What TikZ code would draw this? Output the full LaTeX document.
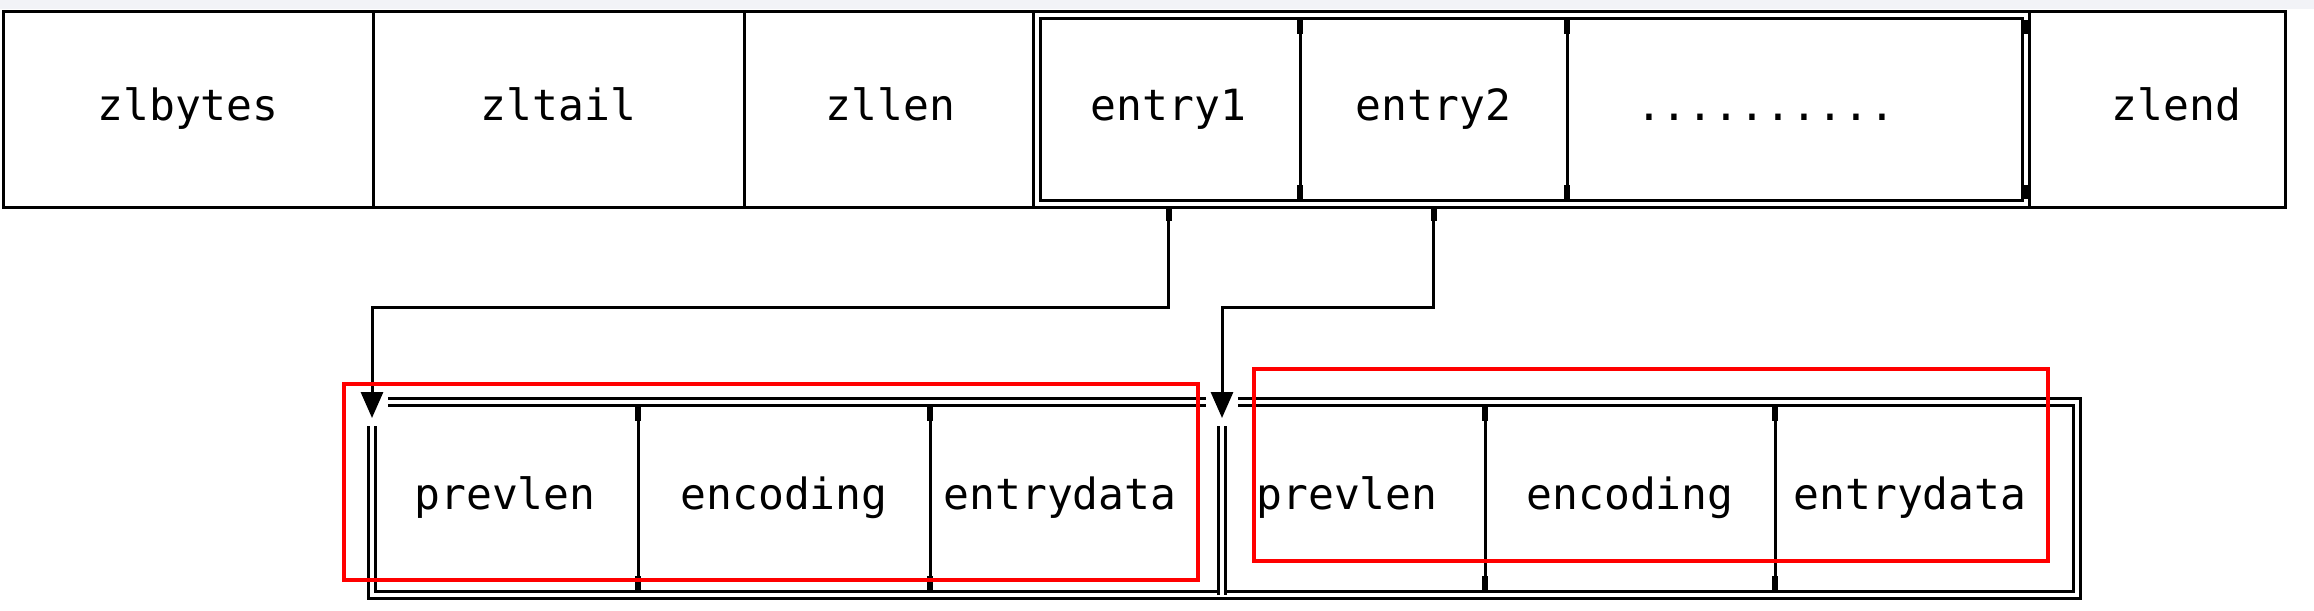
\documentclass[tikz,border=0pt]{standalone}
\usepackage{fontspec}
\setmonofont{DejaVu Sans Mono}
\usetikzlibrary{arrows.meta}
\definecolor{stripgray}{HTML}{F2F3F7}
\begin{document}
\begin{tikzpicture}[x=1pt,y=-1pt,
  cell/.style={draw=black, line width=3pt, rectangle, inner sep=0pt, outer sep=0pt, anchor=north west, minimum height=195pt, text height=32pt, text depth=10pt, font=\ttfamily\fontsize{43}{50}\selectfont},
  bcell/.style={cell, minimum height=193pt},
  dframe/.style={draw=black, line width=3pt, double=white, double distance=4pt},
  conn/.style={draw=black, line width=3pt},
  notch/.style={draw=black, line width=6pt},
  tip/.style={-{Triangle[width=22pt,length=26pt]}},
  redbox/.style={draw=red, line width=4.5pt},
]
\useasboundingbox (0,0) rectangle (2314,610);
\fill[white] (0,0) rectangle (2314,610);
\fill[stripgray] (0,0) rectangle (2314,9);

% top row
\node[cell, minimum width=370pt] (zlbytes) at (3,12) {zlbytes};
\node[cell, minimum width=371pt] (zltail) at (373,12) {zltail};
\node[cell, minimum width=293pt] (zllen) at (744,12) {zllen};
\node[cell, minimum width=263pt] (e1) at (1037,12) {entry1};
\node[cell, minimum width=267pt] (e2) at (1300,12) {entry2};
\node[cell, minimum width=459pt] (dots) at (1567,12) {..........\hspace*{62pt}};
\node[cell, minimum width=259pt] (zlend) at (2026,12) {\hspace*{42pt}zlend};
\draw[dframe] (1037,15) rectangle (2026,204);
% junction notches (top row)
\foreach \x in {1300,1567,2026} {
  \draw[notch] (\x,20) -- (\x,34);
  \draw[notch] (\x,185) -- (\x,199);
}
\draw[notch] (e1.south) -- ++(0,14);
\draw[notch] (e2.south) -- ++(0,14);

% bottom row
\node[bcell, minimum width=266pt] (p1) at (372,402) {prevlen};
\node[bcell, minimum width=292pt] (c1) at (638,402) {encoding};
\node[bcell, minimum width=292pt] (d1) at (930,402) {entrydata\hspace*{32pt}};
\node[bcell, minimum width=263pt] (p2) at (1222,402) {prevlen\hspace*{13pt}};
\node[bcell, minimum width=290pt] (c2) at (1485,402) {encoding};
\node[bcell, minimum width=302pt] (d2) at (1775,402) {entrydata\hspace*{32pt}};
\draw[dframe] (372,402) rectangle (2077,595);
\draw[dframe] (1222,402) -- (1222,595);
\foreach \x in {638,930,1485,1775} {
  \draw[notch] (\x,407) -- (\x,421);
  \draw[notch] (\x,576) -- (\x,590);
}

% gaps round arrow tips
\fill[white] (356,390) rectangle (388,426);
\fill[white] (1206,390) rectangle (1238,426);

% connectors
\coordinate (t1) at (372,418);
\coordinate (t2) at (1222,418);
\draw[conn,tip] (e1.south) -- ++(0,100) -| (t1);
\draw[conn,tip] (e2.south) -- ++(0,100) -| (t2);

% red highlight boxes
\draw[redbox] (344,384) rectangle (1198,580);
\draw[redbox] (1254,369) rectangle (2048,561);
\end{tikzpicture}
\end{document}
